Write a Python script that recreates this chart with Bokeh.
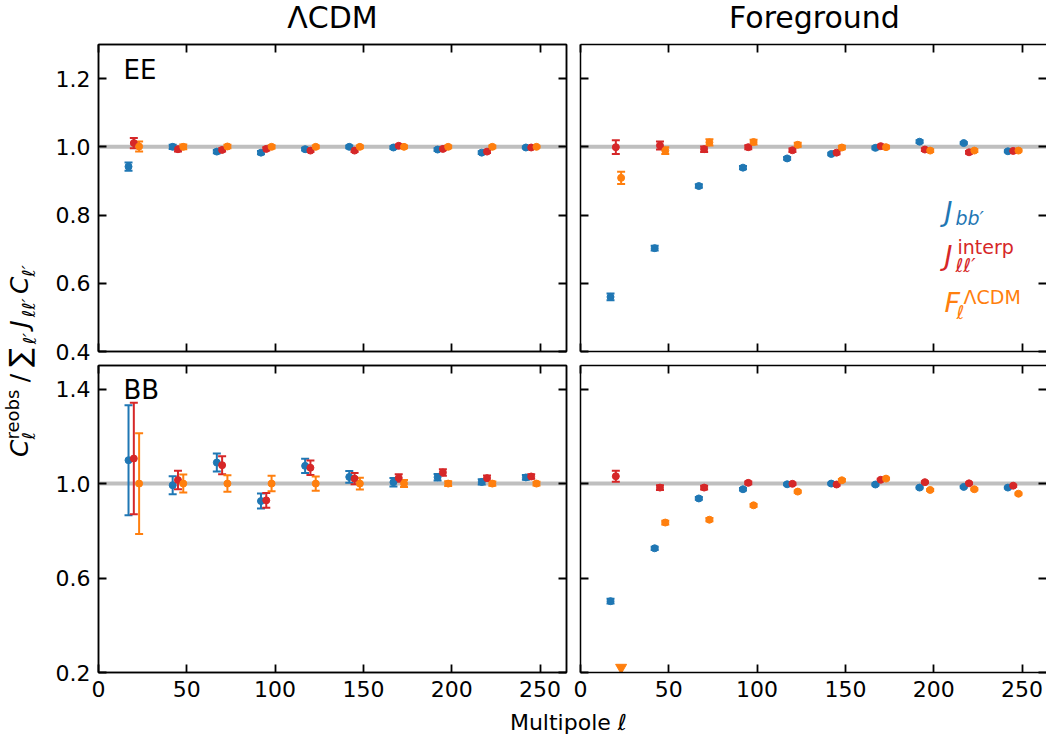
import math
from bokeh.plotting import figure
from bokeh.models import (Range1d, FixedTicker, LinearAxis, Span, Whisker, TeeHead,
                          ColumnDataSource, PrintfTickFormatter)
from bokeh.layouts import row, column
from bokeh.embed import file_html
from bokeh.resources import INLINE
from bokeh.core.properties import value

FONT = "DejaVu Sans"
BLUE, RED, ORANGE = "#1f77b4", "#d62728", "#ff7f0e"

# ---------------- data ----------------
bin_centers = [20, 45, 70, 95, 120, 145, 170, 195, 220, 245]
series_offsets = [-3, 0, 3]          # J_bb', J_interp, F_LCDM
x_ticks = [0, 50, 100, 150, 200, 250]
ee_y_ticks = [0.4, 0.6, 0.8, 1.0, 1.2]
bb_y_ticks = [0.2, 0.6, 1.0, 1.4]
column_titles = ["\u039bCDM", "Foreground"]
row_labels = ["EE", "BB"]

# EE, LCDM sky
ee_lcdm_jbb = [0.942, 1.000, 0.986, 0.983, 0.993, 1.000, 0.998, 0.992, 0.983, 0.998]
ee_lcdm_jbb_err = [0.012, 0.006, 0.005, 0.005, 0.004, 0.004, 0.004, 0.004, 0.004, 0.003]
ee_lcdm_interp = [1.011, 0.993, 0.991, 0.994, 0.989, 0.989, 1.003, 0.994, 0.986, 0.998]
ee_lcdm_interp_err = [0.015, 0.007, 0.005, 0.005, 0.004, 0.004, 0.004, 0.004, 0.004, 0.003]
ee_lcdm_flcdm = [1.001, 1.000, 1.001, 1.000, 1.000, 1.000, 1.000, 1.000, 1.000, 1.000]
ee_lcdm_flcdm_err = [0.015, 0.007, 0.005, 0.005, 0.004, 0.004, 0.004, 0.004, 0.004, 0.003]

# EE, foreground sky
ee_fg_jbb = [0.560, 0.703, 0.885, 0.939, 0.966, 0.979, 0.997, 1.015, 1.011, 0.987]
ee_fg_jbb_err = [0.010, 0.007, 0.005, 0.005, 0.004, 0.004, 0.004, 0.004, 0.003, 0.003]
ee_fg_interp = [0.999, 1.004, 0.993, 0.999, 0.990, 0.983, 1.002, 0.992, 0.984, 0.988]
ee_fg_interp_err = [0.020, 0.012, 0.008, 0.006, 0.005, 0.005, 0.004, 0.004, 0.004, 0.003]
ee_fg_flcdm = [0.909, 0.989, 1.013, 1.014, 1.006, 0.998, 0.999, 0.989, 0.989, 0.989]
ee_fg_flcdm_err = [0.018, 0.010, 0.009, 0.007, 0.006, 0.005, 0.004, 0.004, 0.004, 0.003]

# BB, LCDM sky
bb_lcdm_jbb = [1.099, 0.993, 1.089, 0.926, 1.075, 1.028, 1.006, 1.027, 1.007, 1.026]
bb_lcdm_jbb_err = [0.233, 0.038, 0.038, 0.032, 0.030, 0.025, 0.018, 0.014, 0.011, 0.010]
bb_lcdm_interp = [1.106, 1.015, 1.078, 0.929, 1.067, 1.021, 1.024, 1.047, 1.023, 1.030]
bb_lcdm_interp_err = [0.236, 0.039, 0.038, 0.031, 0.031, 0.024, 0.016, 0.014, 0.011, 0.010]
bb_lcdm_flcdm = [1.000, 1.000, 1.000, 1.000, 1.000, 1.000, 1.000, 1.000, 1.000, 1.000]
bb_lcdm_flcdm_err = [0.213, 0.038, 0.035, 0.033, 0.030, 0.025, 0.015, 0.010, 0.009, 0.008]

# BB, foreground sky (first F_LCDM point is off the bottom of the axis)
bb_fg_jbb = [0.502, 0.726, 0.937, 0.976, 0.997, 1.000, 0.996, 0.983, 0.986, 0.983]
bb_fg_jbb_err = [0.010, 0.007, 0.006, 0.005, 0.004, 0.004, 0.004, 0.004, 0.004, 0.004]
bb_fg_interp = [1.031, 0.983, 0.983, 1.003, 0.999, 0.996, 1.016, 1.006, 1.001, 0.991]
bb_fg_interp_err = [0.023, 0.010, 0.008, 0.006, 0.005, 0.005, 0.004, 0.004, 0.004, 0.004]
bb_fg_flcdm = [0.100, 0.835, 0.847, 0.908, 0.966, 1.014, 1.021, 0.973, 0.976, 0.957]
bb_fg_flcdm_err = [0.000, 0.008, 0.007, 0.006, 0.005, 0.005, 0.004, 0.004, 0.004, 0.004]

# ---------------- layout constants (page pixels, origin top-left) ----------------
XMAX = 265.0
FRAME_W = 468
FRAME_W_R = 466
FRAME_H = 307
PX_L = FRAME_W / XMAX
EE_LIM = (0.4, 1.3)
BB_LIM = (0.2, 1.5)
TICK_FS = "22px"
PAGE_W, PAGE_H = 1046, 747
TITLE_H = 43
YL_W = 48


def style_axis(ax, ticker, show_labels, fmt=None, line=True):
    ax.ticker = ticker
    ax.axis_line_color = "black" if line else None
    ax.axis_line_width = 1.5
    ax.major_tick_in = 8
    ax.major_tick_out = 0
    ax.major_tick_line_width = 1.8
    ax.major_tick_line_color = "black"
    ax.minor_tick_line_color = None
    ax.major_label_text_font = FONT
    if fmt is not None:
        ax.formatter = fmt
    if show_labels:
        ax.major_label_text_color = "black"
        ax.major_label_text_font_size = TICK_FS
        ax.major_label_standoff = 8
    else:
        ax.major_label_text_color = None
        ax.major_label_text_font_size = "1px"
        ax.major_label_standoff = 0


def make_panel(width, height, xend, ylim, yticks, borders, show_x, show_y, right_edge=True):
    p = figure(width=width, height=height, x_range=Range1d(0, xend), y_range=Range1d(*ylim),
               output_backend="svg", toolbar_location=None, title=None,
               min_border_left=borders[0], min_border_right=borders[1],
               min_border_top=borders[2], min_border_bottom=borders[3])
    p.outline_line_color = "black" if right_edge else None
    p.outline_line_width = 1.5
    p.xgrid.visible = False
    p.ygrid.visible = False
    yfmt = PrintfTickFormatter(format="%.1f")
    style_axis(p.xaxis[0], FixedTicker(ticks=x_ticks), show_x)
    style_axis(p.yaxis[0], FixedTicker(ticks=yticks), show_y, yfmt)
    top = LinearAxis()
    style_axis(top, FixedTicker(ticks=x_ticks), False)
    p.add_layout(top, "above")
    right = LinearAxis()
    style_axis(right, FixedTicker(ticks=yticks), False, line=right_edge)
    p.add_layout(right, "right")
    p.add_layout(Span(location=1.0, dimension="width", line_color="#bfbfbf",
                      line_width=4, level="underlay"))
    return p


def add_series(p, vals, errs, offset, color, ylim):
    xs, ys, lo, hi = [], [], [], []
    off_x = []
    for c, v, e in zip(bin_centers, vals, errs):
        if v < ylim[0]:
            off_x.append(c + offset)
            continue
        xs.append(c + offset)
        ys.append(v)
        lo.append(v - e)
        hi.append(v + e)
    src = ColumnDataSource(dict(x=xs, y=ys, lower=lo, upper=hi))
    p.add_layout(Whisker(source=src, base="x", lower="lower", upper="upper",
                         line_color=color, line_width=2,
                         lower_head=TeeHead(size=8, line_color=color, line_width=2),
                         upper_head=TeeHead(size=8, line_color=color, line_width=2)))
    p.scatter("x", "y", source=src, size=7, color=color, marker="circle")
    if off_x:
        span = ylim[1] - ylim[0]
        ymark = ylim[0] + span * 5.0 / FRAME_H
        p.scatter(off_x, [ymark] * len(off_x), marker="inverted_triangle",
                  size=11, color=color)


def ident(v):
    return v


def put(fig, px, py, s, fs, color="black", style="normal", align="left", angle=0.0,
        xmap=ident, ymap=ident):
    """Place text whose baseline sits at page pixel (px, py)."""
    if angle == 0.0:
        cx, cy = px, py - 0.35 * fs
    else:
        cx, cy = px - 0.35 * fs, py
    fig.text(x=[xmap(cx)], y=[ymap(cy)], text=[s], text_font=value(FONT),
             text_font_size=value(f"{fs}px"), text_font_style=style, text_color=color,
             text_align=align, text_baseline="middle", angle=angle)


def blank_fig(w, h, x0, y0):
    f = figure(width=w, height=h, x_range=Range1d(x0, x0 + w), y_range=Range1d(y0 + h, y0),
               output_backend="svg", toolbar_location=None, x_axis_location=None,
               y_axis_location=None, min_border=0, title=None)
    f.outline_line_color = None
    f.xgrid.visible = False
    f.ygrid.visible = False
    return f


LEFT_W = 50 + FRAME_W + 7
RIGHT_W = PAGE_W - YL_W - LEFT_W
TOP_H = 1 + FRAME_H + 13
BOT_H = 1 + FRAME_H + 32
XEND_R = FRAME_W_R / PX_L

tl = make_panel(LEFT_W, TOP_H, XMAX, EE_LIM, ee_y_ticks, (50, 7, 1, 13), False, True)
tr = make_panel(RIGHT_W, TOP_H, XEND_R, EE_LIM, ee_y_ticks, (7, 0, 1, 13), False, False, right_edge=False)
bl = make_panel(LEFT_W, BOT_H, XMAX, BB_LIM, bb_y_ticks, (50, 7, 1, 32), True, True)
br = make_panel(RIGHT_W, BOT_H, XEND_R, BB_LIM, bb_y_ticks, (7, 0, 1, 32), True, False, right_edge=False)

panels = [
    (tl, EE_LIM, [(ee_lcdm_jbb, ee_lcdm_jbb_err), (ee_lcdm_interp, ee_lcdm_interp_err), (ee_lcdm_flcdm, ee_lcdm_flcdm_err)]),
    (tr, EE_LIM, [(ee_fg_jbb, ee_fg_jbb_err), (ee_fg_interp, ee_fg_interp_err), (ee_fg_flcdm, ee_fg_flcdm_err)]),
    (bl, BB_LIM, [(bb_lcdm_jbb, bb_lcdm_jbb_err), (bb_lcdm_interp, bb_lcdm_interp_err), (bb_lcdm_flcdm, bb_lcdm_flcdm_err)]),
    (br, BB_LIM, [(bb_fg_jbb, bb_fg_jbb_err), (bb_fg_interp, bb_fg_interp_err), (bb_fg_flcdm, bb_fg_flcdm_err)]),
]
colors = [BLUE, RED, ORANGE]
for p, lim, series in panels:
    for (vals, errs), off, col in zip(series, series_offsets, colors):
        add_series(p, vals, errs, off, col, lim)

# page-pixel -> data helpers for annotation placement
def ee_y(py):
    return EE_LIM[1] - (py - 44) * (EE_LIM[1] - EE_LIM[0]) / FRAME_H

def bb_y(py):
    return BB_LIM[1] - (py - 365) * (BB_LIM[1] - BB_LIM[0]) / FRAME_H

def l_x(px):
    return (px - 98) / PX_L

def r_x(px):
    return (px - 580) / PX_L

put(tl, 123, 79, row_labels[0], 26, xmap=l_x, ymap=ee_y)
put(bl, 123, 399, row_labels[1], 26, xmap=l_x, ymap=bb_y)

legend_pieces = [
    ("J", 27, "italic", BLUE, 944, 220),
    ("bb\u2032", 19, "italic", BLUE, 955, 224),
    ("J", 27, "italic", RED, 944, 264),
    ("interp", 19, "normal", RED, 957, 253),
    ("\u2113\u2113\u2032", 19, "italic", RED, 955, 271),
    ("F", 27, "italic", ORANGE, 944, 311),
    ("\u039bCDM", 19, "normal", ORANGE, 963, 303),
    ("\u2113", 19, "italic", ORANGE, 956, 318),
]
for s, fs, st, col, px, py in legend_pieces:
    put(tr, px, py, s, fs, color=col, style=st, xmap=r_x, ymap=ee_y)

# title strip
title_fig = blank_fig(PAGE_W, TITLE_H, 0, 0)
put(title_fig, 98 + PX_L * XMAX / 2, 27, column_titles[0], 30, align="center")
put(title_fig, 580 + PX_L * XMAX / 2, 27, column_titles[1], 30, align="center")

# y-label strip (rotated composite text, reading bottom to top)
YL_H = TOP_H + BOT_H
ylab = blank_fig(YL_W, YL_H, 0, TITLE_H)

EM = {"C": 0.698, "\u2113": 0.42, "\u2032": 0.28, "r": 0.411, "e": 0.615, "o": 0.612, "b": 0.635,
      "s": 0.521, "/": 0.337, "\u2211": 0.80, "J": 0.42}

def adv(s, fs):
    return sum(EM.get(ch, 0.6) for ch in s) * fs

MAIN, SUB = 25, 18
BASE_X = 28
# each group: (pieces, extra gap after); pieces = (text, size, style, dx)
groups = [
    ([("C", MAIN, "italic", 0)], 0),
    ([("\u2113", SUB, "italic", 6), ("reobs", SUB, "normal", -10)], 7),
    ([("/", MAIN, "normal", 0)], 7),
    ([("\u2211", 28, "normal", 1)], 0),
    ([("\u2113\u2032", SUB, "italic", 7)], 4),
    ([("J", MAIN, "italic", 0)], 0),
    ([("\u2113\u2113\u2032", SUB, "italic", 6)], 3),
    ([("C", MAIN, "italic", 0)], 0),
    ([("\u2113\u2032", SUB, "italic", 6)], 0),
]
total = sum(max(adv(t, fs) for t, fs, _, _ in g) + gap for g, gap in groups)
ycur = 360 + total / 2
for g, gap in groups:
    for t, fs, st, dx in g:
        put(ylab, BASE_X + dx, ycur, t, fs, style=st, angle=math.pi / 2)
    ycur -= max(adv(t, fs) for t, fs, _, _ in g) + gap

# x-label strip
XL_H = PAGE_H - TITLE_H - YL_H
xlab = blank_fig(PAGE_W, XL_H, 0, TITLE_H + YL_H)
word_w = (0.863 + 0.634 + 0.278 + 0.392 + 0.278 + 0.635 + 0.612 + 0.278 + 0.615 + 0.318) * 22
full_w = word_w + 0.42 * 22
x0 = 568 - full_w / 2
put(xlab, x0, 730, "Multipole", 22)
put(xlab, x0 + word_w, 730, "\u2113", 22, style="italic")

layout = column(title_fig, row(ylab, column(row(tl, tr), row(bl, br))), xlab)

open("out.html", "w").write(file_html(layout, INLINE))
